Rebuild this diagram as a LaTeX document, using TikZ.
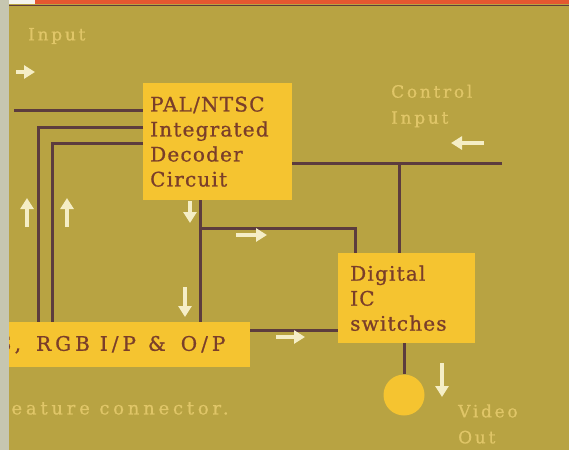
\documentclass[tikz,border=0pt]{standalone}
\usepackage{fontspec}
\usepackage{tikz}
\usetikzlibrary{arrows.meta,positioning,calc}
\newfontfamily\boxfont[LetterSpace=6,FakeBold=0.9]{DejaVu Serif}
\newfontfamily\widefont[LetterSpace=20,FakeBold=0.9]{DejaVu Serif}
\newfontfamily\lblfont[LetterSpace=16,FakeBold=0.7]{DejaVu Serif}
\definecolor{olive}{RGB}{184,163,66}
\definecolor{boxyellow}{RGB}{245,196,48}
\definecolor{wirebrown}{RGB}{92,60,62}
\definecolor{boxtext}{RGB}{122,62,42}
\definecolor{lbltext}{RGB}{224,198,104}
\definecolor{cream}{RGB}{245,238,198}
\definecolor{pagegrey}{RGB}{198,198,176}
\definecolor{topred}{RGB}{228,88,48}
\tikzset{
  blk/.style  ={fill=boxyellow,text=boxtext,inner sep=0pt,
                font=\boxfont\fontsize{20}{25}\selectfont,align=left},
  wire/.style ={draw=wirebrown,line width=3pt},
  flow/.style ={-{Triangle[length=11pt,width=13pt]},line width=3.6pt,cream},
  lbl/.style  ={text=lbltext,font=\lblfont\fontsize{17}{26}\selectfont,
                align=left,anchor=west,inner sep=0pt},
  jack/.style ={circle,fill=boxyellow,minimum size=41pt,inner sep=0pt},
}
\newcommand{\gap}[1]{\hspace*{#1pt}}
\begin{document}
\begin{tikzpicture}[x=1pt,y=-1pt]
  \clip (0,0) rectangle (569,450);
  \fill[olive] (0,0) rectangle (569,450);
  % boxes
  \node[blk,anchor=north west,minimum width=149pt,minimum height=117pt,
        text width=135pt] (decoder) at (143,83)
        {PAL/NTSC\\Integrated\\Decoder\\Circuit};
  \node[blk,anchor=north west,minimum width=137pt,minimum height=90pt,
        text width=113pt] (switches) at (338,253)
        {Digital\\IC\\switches};
  \node[blk,anchor=north east,minimum width=258pt,minimum height=45pt,
        text width=246pt,font=\widefont\fontsize{20}{25}\selectfont]
        (rgbio) at (250,322) {S,\gap{15}RGB\gap{10}I/P\gap{12}\&\gap{15}O/P};
  \node[jack] (vout) at (404,395) {};
  % wires
  \coordinate (inA)  at (14,110);
  \coordinate (w2)   at (38,127);
  \coordinate (w3)   at (52,143);
  \coordinate (tap)  at (200,228);
  \coordinate (tapB) at (355,228);
  \coordinate (ctl)  at (502,163);
  \coordinate (ctlB) at (399,163);
  \coordinate (rs)   at (300,330);
  \draw[wire] (inA) -- (inA -| decoder.west);
  \draw[wire] (w2 -| decoder.west) -- (w2) -- (w2 |- rgbio.north);
  \draw[wire] (w3 -| decoder.west) -- (w3) -- (w3 |- rgbio.north);
  \draw[wire] (tap |- decoder.south) -- (tap |- rgbio.north);
  \draw[wire] (tap) -- (tapB) -- (tapB |- switches.north);
  \draw[wire] (ctl) -- (ctl -| decoder.east);
  \draw[wire] (ctlB) -- (ctlB |- switches.north);
  \draw[wire] (rs -| rgbio.east) -- (rs -| switches.west);
  \draw[wire] (vout.north |- switches.south) -- (vout.north);
  % signal arrows
  \draw[flow] (16,72) -- (35,72);
  \draw[flow] (27,227) -- (27,198);
  \draw[flow] (67,227) -- (67,198);
  \draw[flow] (190,201) -- (190,223);
  \draw[flow] (236,235) -- (267,235);
  \draw[flow] (185,287) -- (185,317);
  \draw[flow] (276,337) -- (305,337);
  \draw[flow] (484,143) -- (451,143);
  \draw[flow] (442,363) -- (442,397);
  % labels
  \node[lbl] (lin)  at (28,36)   {Input};
  \node[lbl] (lctl) at (391,106) {Control\\Input};
  \node[lbl] (lvid) at (458,424) {Video\\Out};
  \node[lbl,font=\lblfont\fontsize{18}{26}\selectfont\addfontfeature{LetterSpace=21}]
        (lfc) at (-4,408) {Feature connector.};
  % page edge and top strip
  \fill[pagegrey] (0,0) rectangle (9,450);
  \fill[white!80!pagegrey] (9,0) rectangle (35,4);
  \fill[topred] (35,0) rectangle (569,4);
  \draw[wirebrown,line width=1pt] (9,5) -- (569,5);
\end{tikzpicture}
\end{document}
